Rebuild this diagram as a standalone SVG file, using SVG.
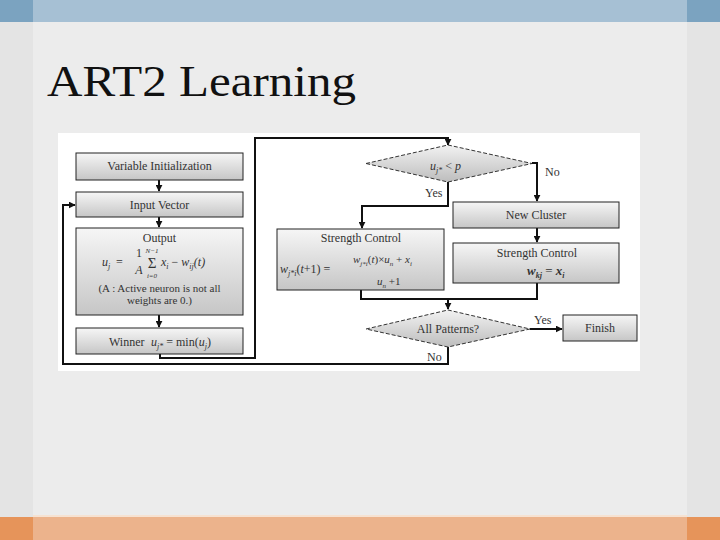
<svg xmlns="http://www.w3.org/2000/svg" width="720" height="540" viewBox="0 0 720 540">
<defs>
<linearGradient id="boxg" x1="0" y1="0" x2="0" y2="1">
<stop offset="0" stop-color="#f6f6f6"/><stop offset="1" stop-color="#c6c6c6"/>
</linearGradient>
<linearGradient id="dg" x1="0" y1="0" x2="0" y2="1">
<stop offset="0" stop-color="#f2f2f2"/><stop offset="1" stop-color="#bdbdbd"/>
</linearGradient>
<marker id="ah" viewBox="0 0 10 10" refX="9" refY="5" markerWidth="7" markerHeight="7" markerUnits="userSpaceOnUse" orient="auto">
<path d="M0,0 L10,5 L0,10 z" fill="#111"/>
</marker>
<style>
.bx{fill:url(#boxg);stroke:#222;stroke-width:1}
.dm{fill:url(#dg);stroke:#333;stroke-width:1;stroke-dasharray:4 2}
.t{font-family:"Liberation Serif","Times New Roman",serif;fill:#333}
.m{font-family:"Liberation Serif","Times New Roman",serif;fill:#333;font-style:italic}
.c{text-anchor:middle}
.cn{fill:none;stroke:#111;stroke-width:2}
</style>
</defs>
<rect x="0" y="0" width="720" height="540" fill="#ececec"/>
<rect x="0" y="0" width="33" height="540" fill="#e4e4e4"/>
<rect x="687" y="0" width="33" height="540" fill="#e4e4e4"/>
<rect x="0" y="0" width="720" height="22" fill="#7ba3c0"/>
<rect x="33" y="0" width="654" height="22" fill="#a6c0d4"/>
<rect x="0" y="517" width="720" height="23" fill="#e6945a"/>
<rect x="33" y="517" width="654" height="23" fill="#ecb38c"/>
<rect x="33" y="515" width="654" height="2" fill="#f6e2d2"/>
<text x="47" y="96" font-family="Liberation Serif,'Times New Roman',serif" font-size="45" fill="#111" textLength="309" lengthAdjust="spacingAndGlyphs">ART2 Learning</text>
<rect x="58" y="133" width="582" height="238" fill="#ffffff"/>

<g id="connectors">
<path class="cn" d="M159,180 V191" marker-end="url(#ah)"/>
<path class="cn" d="M159,217 V227" marker-end="url(#ah)"/>
<path class="cn" d="M159,315 V327" marker-end="url(#ah)"/>
<path class="cn" d="M160,354 V358 H255 V138 H448 V145" marker-end="url(#ah)"/>
<path class="cn" d="M448,182 V206 H362 V228" marker-end="url(#ah)"/>
<path class="cn" d="M532,163 H537 V201" marker-end="url(#ah)"/>
<path class="cn" d="M537,228 V242" marker-end="url(#ah)"/>
<path class="cn" d="M361,290 V299 H448 V309" marker-end="url(#ah)"/>
<path class="cn" d="M537,283 V299 H448"/>
<path class="cn" d="M530,329 H562" marker-end="url(#ah)"/>
<path class="cn" d="M448,347 V364 H63 V205 H75" marker-end="url(#ah)"/>
</g>

<g id="var-init">
<rect class="bx" x="76" y="153" width="167" height="27"/>
<text class="t c" x="159.5" y="170" font-size="12">Variable  Initialization</text>
</g>
<g id="input-vector">
<rect class="bx" x="76" y="192" width="167" height="25"/>
<text class="t c" x="159.5" y="209" font-size="12">Input  Vector</text>
</g>
<g id="output">
<rect class="bx" x="76" y="228" width="167" height="87"/>
<text class="t c" x="159.5" y="242" font-size="12">Output</text>
<text class="m" x="102" y="266" font-size="12">u<tspan dy="3" font-size="8">j</tspan></text>
<text class="t" x="116" y="266" font-size="12">=</text>
<text class="t c" x="139" y="257" font-size="12">1</text>
<text class="m c" x="139" y="274" font-size="12">A</text>
<text class="t c" x="152" y="268" font-size="15">Σ</text>
<text class="m c" x="152" y="253" font-size="7">N−1</text>
<text class="m c" x="152" y="278" font-size="7">i=0</text>
<text class="m" x="161" y="266" font-size="12">x<tspan dy="3" font-size="8">i</tspan><tspan dy="-3" font-style="normal"> −</tspan> w<tspan dy="3" font-size="8">ij</tspan><tspan dy="-3">(t)</tspan></text>
<text class="t c" x="159.5" y="292" font-size="11">(A : Active neuron is not all</text>
<text class="t c" x="159.5" y="304" font-size="11">weights are 0.)</text>
</g>
<g id="winner">
<rect class="bx" x="76" y="328" width="167" height="26"/>
<text class="t" x="109" y="346" font-size="12">Winner</text>
<text class="m" x="151" y="346" font-size="12">u<tspan dy="3" font-size="8">j*</tspan><tspan dy="-3" font-style="normal"> = min(</tspan>u<tspan dy="3" font-size="8">j</tspan><tspan dy="-3" font-style="normal">)</tspan></text>
</g>
<g id="decision-vigilance">
<polygon class="dm" points="366,163.5 448,145 532,163.5 448,182"/>
<text class="m" x="430" y="170" font-size="12">u<tspan dy="3" font-size="8">j*</tspan><tspan dy="-3" font-style="normal"> &lt; </tspan>p</text>
<text class="t" x="425" y="197" font-size="12">Yes</text>
<text class="t" x="545" y="176" font-size="12">No</text>
</g>
<g id="strength-control-left">
<rect class="bx" x="277" y="229" width="167" height="61"/>
<text class="t c" x="361" y="242" font-size="12">Strength  Control</text>
<text class="m" x="280" y="273" font-size="12">w<tspan dy="3" font-size="8">j*i</tspan><tspan dy="-3" font-style="normal">(</tspan>t<tspan font-style="normal">+1) =</tspan></text>
<text class="m" x="353" y="263" font-size="11">w<tspan dy="3" font-size="7">j*i</tspan><tspan dy="-3" font-style="normal">(</tspan>t<tspan font-style="normal">)×</tspan>u<tspan dy="3" font-size="7">n</tspan><tspan dy="-3" font-style="normal"> + </tspan>x<tspan dy="3" font-size="7">i</tspan></text>
<text class="m" x="377" y="285" font-size="11">u<tspan dy="3" font-size="7">n</tspan><tspan dy="-3" font-style="normal"> +1</tspan></text>
</g>
<g id="new-cluster">
<rect class="bx" x="453" y="202" width="166" height="26"/>
<text class="t c" x="536" y="219" font-size="12">New  Cluster</text>
</g>
<g id="strength-control-right">
<rect class="bx" x="453" y="243" width="166" height="40"/>
<text class="t c" x="537" y="257" font-size="12">Strength  Control</text>
<text class="m" x="527" y="275" font-size="13" font-weight="bold">w<tspan dy="3" font-size="8">kj</tspan><tspan dy="-3" font-style="normal" font-weight="normal"> = </tspan>x<tspan dy="3" font-size="8">i</tspan></text>
</g>
<g id="decision-all-patterns">
<polygon class="dm" points="366,329 448,310 530,329 448,347"/>
<text class="t c" x="448" y="333" font-size="12">All  Patterns?</text>
<text class="t" x="534" y="324" font-size="12">Yes</text>
<text class="t" x="427" y="361" font-size="12">No</text>
</g>
<g id="finish">
<rect class="bx" x="563" y="315" width="74" height="26"/>
<text class="t c" x="600" y="332" font-size="12">Finish</text>
</g>
</svg>
